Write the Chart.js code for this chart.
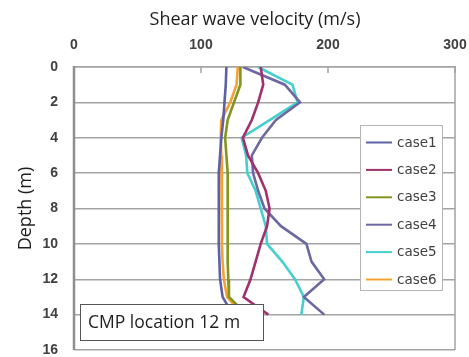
<!DOCTYPE html>
<html><head><meta charset="utf-8">
<script src="https://cdn.jsdelivr.net/npm/chart.js@4.4.1/dist/chart.umd.min.js"></script>
<style>html,body{margin:0;padding:0;background:#fff;overflow:hidden}#wrap{width:469px;height:357px}</style>
</head><body><div id="wrap"><canvas id="c" width="469" height="357"></canvas></div>
<script>
// ---- data ----
const depths = [0, 1, 2, 3, 4, 5, 6, 7, 8, 9, 10, 11, 12, 13, 14];
const case1 = [120, 119.5, 118.5, 117.5, 116, 115, 114, 114, 114, 114, 114, 114.5, 115, 117, 125];
const case2 = [147, 149, 145, 140, 133, 137, 145, 151, 154, 152, 147, 143, 139, 133.5, 153];
const case3 = [131, 131, 126, 121, 119, 120, 121, 121, 121, 121, 121, 121, 121.5, 122, 136];
const case4 = [133, 166, 178, 159, 148, 140, 141, 145, 150, 163, 183, 187, 197, 181, 197];
const case5 = [145, 172, 176, 154, 132, 135.5, 136.5, 143, 147, 151, 152, 164, 174, 181, 179];
const case6 = [129, 128, 123, 116, 115.5, 116, 116.5, 116.5, 116.5, 116.5, 116.5, 117, 118, 120.5, 133];
const seriesNames = ['case1', 'case2', 'case3', 'case4', 'case5', 'case6'];
const seriesValues = [case1, case2, case3, case4, case5, case6];
const xTickValues = [0, 100, 200, 300];
const yTickValues = [0, 2, 4, 6, 8, 10, 12, 14, 16];
const xTitle = 'Shear wave velocity (m/s)';
const yTitle = 'Depth (m)';
const noteText = 'CMP location 12 m';

// ---- styles ----
const seriesColors = ['#5f5fa3', '#a0306e', '#84941c', '#6c68a2', '#45cfcf', '#f4a233'];
const gridColor = '#a3a3a3';
const tickFont = {family: 'Liberation Sans', size: 14, weight: 'bold'};
const titleFamily = 'Open Sans';

const datasets = seriesNames.map((name, i) => ({
  label: name,
  data: depths.map((d, j) => ({x: seriesValues[i][j], y: d})),
  borderColor: seriesColors[i],
  backgroundColor: seriesColors[i],
  borderWidth: 2.6,
  pointRadius: 0,
  showLine: true,
  tension: 0,
  fill: false
}));

const decor = {
  id: 'decor',
  beforeDatasetsDraw(chart) {
    const {ctx, chartArea: a} = chart;
    ctx.save();
    ctx.strokeStyle = gridColor; ctx.lineWidth = 1.5;
    ctx.beginPath(); ctx.moveTo(a.right, a.top); ctx.lineTo(a.right, a.bottom); ctx.stroke();
    const xs = chart.scales.x;
    xs.ticks.forEach(t => {
      const px = xs.getPixelForValue(t.value);
      ctx.beginPath(); ctx.moveTo(px, a.top); ctx.lineTo(px, a.top + 6); ctx.stroke();
    });
    ctx.strokeStyle = '#8e8e8e'; ctx.lineWidth = 2.5;
    ctx.beginPath(); ctx.moveTo(a.left, a.top - 1); ctx.lineTo(a.left, a.bottom); ctx.stroke();
    ctx.restore();
  },
  afterDatasetsDraw(chart) {
    const {ctx, chartArea: a} = chart;
    ctx.save();
    // legend
    const lx = a.right - 95, ly = a.top + 58, lw = 82, lh = 165;
    ctx.fillStyle = '#fff'; ctx.fillRect(lx, ly, lw, lh);
    ctx.strokeStyle = '#b5b5b5'; ctx.lineWidth = 1;
    ctx.strokeRect(lx + 0.5, ly + 0.5, lw, lh);
    ctx.font = '13.5px "DejaVu Sans"';
    ctx.textBaseline = 'middle'; ctx.textAlign = 'left';
    chart.data.datasets.forEach((ds, i) => {
      const yy = ly + 17.5 + i * 27.4;
      ctx.strokeStyle = ds.borderColor; ctx.lineWidth = 2;
      ctx.beginPath(); ctx.moveTo(lx + 6, yy); ctx.lineTo(lx + 32, yy); ctx.stroke();
      ctx.fillStyle = '#404040';
      ctx.fillText(ds.label, lx + 37, yy + 0.5);
    });
    // note box
    const bx = a.left + 6, by = a.bottom - 46, bw = 183, bh = 36;
    ctx.fillStyle = '#fff'; ctx.fillRect(bx, by, bw, bh);
    ctx.strokeStyle = '#555'; ctx.lineWidth = 1;
    ctx.strokeRect(bx + 0.5, by + 0.5, bw, bh);
    ctx.fillStyle = '#1e1e1e';
    ctx.font = '17.5px "' + titleFamily + '"';
    ctx.fillText(noteText, bx + 8, by + bh / 2 + 1);
    // top title
    ctx.font = '18px "' + titleFamily + '"';
    ctx.textAlign = 'center';
    ctx.fillText(xTitle, 255, 20);
    ctx.restore();
  }
};

new Chart(document.getElementById('c'), {
  type: 'scatter',
  data: {datasets},
  options: {
    responsive: false,
    animation: false,
    devicePixelRatio: 1,
    layout: {padding: {left: 0, top: 0, right: 14, bottom: 7}},
    plugins: {legend: {display: false}, tooltip: {enabled: false}, title: {display: false}},
    scales: {
      x: {
        type: 'linear', position: 'top', min: 0, max: 300,
        afterBuildTicks: s => { s.ticks = xTickValues.map(v => ({value: v})); },
        afterFit: s => { s.height = 67; s.paddingLeft = 0; s.paddingRight = 0; s.paddingTop = 0; s.paddingBottom = 0; },
        ticks: {font: tickFont, color: '#404040', padding: 13, maxRotation: 0},
        grid: {display: false, drawTicks: false},
        border: {display: true, color: gridColor, width: 1.5}
      },
      y: {
        type: 'linear', reverse: true, min: 0, max: 16,
        afterBuildTicks: s => { s.ticks = yTickValues.map(v => ({value: v})); },
        afterFit: s => { s.width = 74; s.paddingLeft = 0; s.paddingRight = 0; s.paddingTop = 0; s.paddingBottom = 0; },
        ticks: {font: tickFont, color: '#404040', padding: 16},
        grid: {color: gridColor, lineWidth: 1.5, drawTicks: false},
        border: {display: false},
        title: {display: true, text: yTitle, color: '#1e1e1e', font: {family: titleFamily, size: 18}, padding: {top: 15, bottom: 0}}
      }
    }
  },
  plugins: [decor]
});
</script>
</body></html>
